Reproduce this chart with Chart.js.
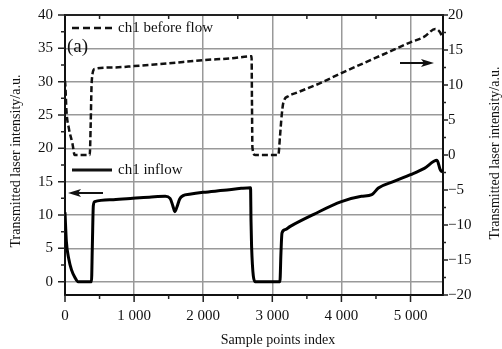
<!DOCTYPE html>
<html>
<head>
<meta charset="utf-8">
<script src="https://cdn.jsdelivr.net/npm/chart.js@4.4.0/dist/chart.umd.min.js"></script>
<style>
  body { margin: 0; background: #fff; }
  canvas { display: block; }
</style>
</head>
<body>
<canvas id="flow" width="502" height="349"></canvas>
<script>
// ch1 inflow (left axis)
const inflowX = [0, 20, 55, 93, 140, 190, 383, 395, 410, 430, 700, 982, 1250, 1450, 1520, 1560, 1590, 1620, 1660, 1710, 1800, 2000, 2300, 2550, 2685, 2692, 2700, 2750, 3110, 3125, 3140, 3185, 3260, 3600, 4000, 4290, 4440, 4535, 4750, 5000, 5200, 5383, 5430, 5460];
const inflowY = [10.4, 6.0, 3.4, 1.8, 0.7, 0, 0, 5.0, 11.4, 12.0, 12.3, 12.5, 12.7, 12.8, 12.5, 11.4, 10.5, 11.2, 12.4, 12.9, 13.1, 13.4, 13.7, 14.0, 14.1, 9.0, 5.3, 0, 0, 4.3, 7.3, 7.8, 8.3, 10.1, 12.0, 12.8, 13.05, 14.05, 15.0, 16.05, 17.0, 18.2, 16.8, 16.4];

// ch1 before flow (right axis)
const beforeX = [0, 8, 20, 58, 107, 140, 358, 372, 383, 400, 430, 700, 1000, 1500, 2000, 2400, 2700, 2706, 2712, 2750, 3087, 3110, 3135, 3160, 3232, 3353, 3700, 4000, 4500, 5000, 5200, 5358, 5430, 5460];
const beforeY = [10.6, 9.4, 6.5, 3.7, 1.7, 0, 0, 4.5, 9.5, 11.7, 12.3, 12.5, 12.7, 13.1, 13.55, 13.8, 14.1, 7.0, 1.1, 0, 0, 2.5, 5.6, 7.5, 8.4, 8.9, 10.3, 11.7, 13.9, 16.1, 16.9, 18.0, 17.5, 16.8];

const xTicks = [0, 1000, 2000, 3000, 4000, 5000];
const leftTicks = [0, 5, 10, 15, 20, 25, 30, 35, 40];
const rightTicks = [-20, -15, -10, -5, 0, 5, 10, 15, 20];

const serif = "'Liberation Serif', 'Times New Roman', serif";
const titleText = 'Transmitted laser intensity/a.u.';

const toPoints = (xs, ys) => xs.map((x, i) => ({x: x, y: ys[i]}));

function fmtThousands(v) {
  if (v < 1000) return String(v);
  return Math.floor(v / 1000) + ' ' + String(v % 1000).padStart(3, '0');
}

// fixed axis sizes, no extra label padding
function fixSize(size) {
  return s => {
    if (s.isHorizontal()) s.height = size; else s.width = size;
    s.paddingTop = 0;
    s.paddingBottom = 0;
    s.paddingLeft = 0;
    s.paddingRight = 0;
  };
}

function arrow(ctx, tail, tip, y) {
  const dir = tip > tail ? 1 : -1;
  ctx.beginPath();
  ctx.moveTo(tail, y);
  ctx.lineTo(tip - dir * 8, y);
  ctx.lineWidth = 2;
  ctx.stroke();
  ctx.beginPath();
  ctx.moveTo(tip, y);
  ctx.lineTo(tip - dir * 13, y - 4);
  ctx.lineTo(tip - dir * 10, y);
  ctx.lineTo(tip - dir * 13, y + 4);
  ctx.closePath();
  ctx.fill();
}

// frame top, tick marks, axis titles, legend and arrows
const decorations = {
  id: 'decorations',
  afterDraw(chart) {
    const ctx = chart.ctx;
    const a = chart.chartArea;
    const sx = chart.scales.x, yl = chart.scales.y, yr = chart.scales.y2;
    ctx.save();
    ctx.strokeStyle = '#222';
    ctx.fillStyle = '#111';

    // top border
    ctx.lineWidth = 2;
    ctx.beginPath();
    ctx.moveTo(a.left, a.top);
    ctx.lineTo(a.right, a.top);
    ctx.stroke();

    ctx.lineWidth = 1.5;
    ctx.beginPath();
    for (let v = 0; v <= 5400; v += 500) {
      const px = sx.getPixelForValue(v);
      const len = v % 1000 === 0 ? 7 : 4;
      ctx.moveTo(px, a.bottom);
      ctx.lineTo(px, a.bottom + len);
      if (v % 1000 !== 0) {
        ctx.moveTo(px, a.top);
        ctx.lineTo(px, a.top + 4);
      }
    }
    for (let v = 0; v <= 40; v += 2.5) {
      const py = yl.getPixelForValue(v);
      const len = v % 5 === 0 ? 7 : 4;
      ctx.moveTo(a.left - len, py);
      ctx.lineTo(a.left, py);
    }
    for (let v = -20; v <= 20; v += 2.5) {
      const py = yr.getPixelForValue(v);
      const len = v % 5 === 0 ? 5 : 3;
      ctx.moveTo(a.right, py);
      ctx.lineTo(a.right + len, py);
    }
    ctx.stroke();

    // axis titles
    ctx.fillStyle = '#111';
    ctx.font = '14px ' + serif;
    ctx.textAlign = 'center';
    ctx.textBaseline = 'middle';
    ctx.fillText('Sample points index', 278, 340);
    ctx.save();
    ctx.translate(16, 161);
    ctx.rotate(-Math.PI / 2);
    ctx.fillText(titleText, 0, 0);
    ctx.restore();
    ctx.save();
    ctx.translate(495, 153);
    ctx.rotate(-Math.PI / 2);
    ctx.fillText(titleText, 0, 0);
    ctx.restore();

    // legend entries
    ctx.strokeStyle = '#111';
    ctx.lineWidth = 2.5;
    ctx.setLineDash([7, 4]);
    ctx.beginPath();
    ctx.moveTo(72, 28);
    ctx.lineTo(114, 28);
    ctx.stroke();
    ctx.setLineDash([]);
    ctx.lineWidth = 3;
    ctx.beginPath();
    ctx.moveTo(72, 170);
    ctx.lineTo(112, 170);
    ctx.stroke();
    ctx.font = '15px ' + serif;
    ctx.textAlign = 'left';
    ctx.fillText('ch1 before flow', 118, 28);
    ctx.fillText('ch1 inflow', 118, 170);
    ctx.font = '19px ' + serif;
    ctx.fillText('(a)', 67, 47);

    // which axis each curve belongs to
    arrow(ctx, 103, 68, 193);
    arrow(ctx, 400, 434, 63);
    ctx.restore();
  }
};

new Chart(document.getElementById('flow'), {
  type: 'line',
  data: {
    datasets: [
      {
        label: 'ch1 before flow',
        data: toPoints(beforeX, beforeY),
        yAxisID: 'y2',
        borderColor: '#111',
        borderWidth: 2.5,
        borderDash: [6, 3],
        cubicInterpolationMode: 'monotone',
        pointRadius: 0,
        fill: false
      },
      {
        label: 'ch1 inflow',
        data: toPoints(inflowX, inflowY),
        yAxisID: 'y',
        borderColor: '#000',
        borderWidth: 3,
        borderJoinStyle: 'round',
        cubicInterpolationMode: 'monotone',
        pointRadius: 0,
        fill: false
      }
    ]
  },
  options: {
    responsive: false,
    animation: false,
    layout: { padding: { top: 15, left: 0, right: 0, bottom: 0 }, autoPadding: false },
    plugins: { legend: { display: false }, tooltip: { enabled: false } },
    scales: {
      x: {
        type: 'linear',
        min: 0,
        max: 5470,
        afterFit: fixSize(54),
        afterBuildTicks: s => { s.ticks = xTicks.map(v => ({value: v})); },
        grid: { color: '#999', lineWidth: 1.5, drawTicks: false },
        border: { color: '#111', width: 2 },
        ticks: {
          padding: 12,
          maxRotation: 0,
          color: '#111',
          font: { family: serif, size: 15 },
          callback: v => fmtThousands(v)
        }
      },
      y: {
        position: 'left',
        min: -2,
        max: 40,
        afterFit: fixSize(65),
        afterBuildTicks: s => { s.ticks = leftTicks.map(v => ({value: v})); },
        grid: { color: '#999', lineWidth: 1.5, drawTicks: false },
        border: { color: '#111', width: 2 },
        ticks: { padding: 12, color: '#111', font: { family: serif, size: 15 } }
      },
      y2: {
        position: 'right',
        min: -20,
        max: 20,
        afterFit: fixSize(59),
        afterBuildTicks: s => { s.ticks = rightTicks.map(v => ({value: v})); },
        grid: { drawOnChartArea: false, drawTicks: false },
        border: { color: '#111', width: 2 },
        ticks: {
          padding: 5,
          color: '#111',
          font: { family: serif, size: 15 },
          callback: v => (v < 0 ? '\u2212' + Math.abs(v) : String(v))
        }
      }
    }
  },
  plugins: [decorations]
});
</script>
</body>
</html>
